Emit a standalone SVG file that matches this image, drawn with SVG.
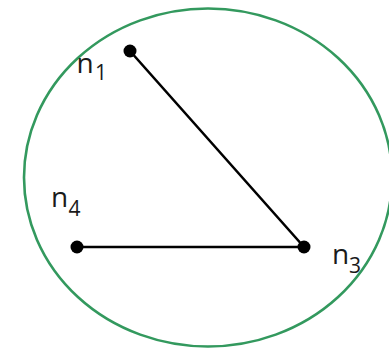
<svg xmlns="http://www.w3.org/2000/svg" width="389" height="350" viewBox="0 0 389 350">
<style>
.edge{stroke:#000;stroke-width:2.6;fill:none;stroke-linecap:round}
.dot{fill:#000}
.lbl{font-family:"Open Sans","Noto Sans",sans-serif;fill:#1a1a1a}
.main{font-size:28px}
.sub{font-size:21px}
</style>
<rect width="389" height="350" fill="#fff"/>
<ellipse id="region" cx="208" cy="177.5" rx="184" ry="169" fill="none" stroke="#33995e" stroke-width="2.6"/>
<g id="connectors">
<line class="edge" x1="130" y1="51" x2="304" y2="247"/>
<line class="edge" x1="77" y1="247" x2="304" y2="247"/>
</g>
<g id="n1">
<circle class="dot" cx="130" cy="51" r="6.5"/>
<text class="lbl"><tspan class="main" x="76.5" y="72.5">n</tspan><tspan class="sub" x="95" y="80">1</tspan></text>
</g>
<g id="n4">
<circle class="dot" cx="77" cy="247" r="6.5"/>
<text class="lbl"><tspan class="main" x="51" y="207">n</tspan><tspan class="sub" x="68.5" y="216">4</tspan></text>
</g>
<g id="n3">
<circle class="dot" cx="304" cy="247" r="6.5"/>
<text class="lbl"><tspan class="main" x="332" y="264">n</tspan><tspan class="sub" x="349" y="272.5">3</tspan></text>
</g>
</svg>
